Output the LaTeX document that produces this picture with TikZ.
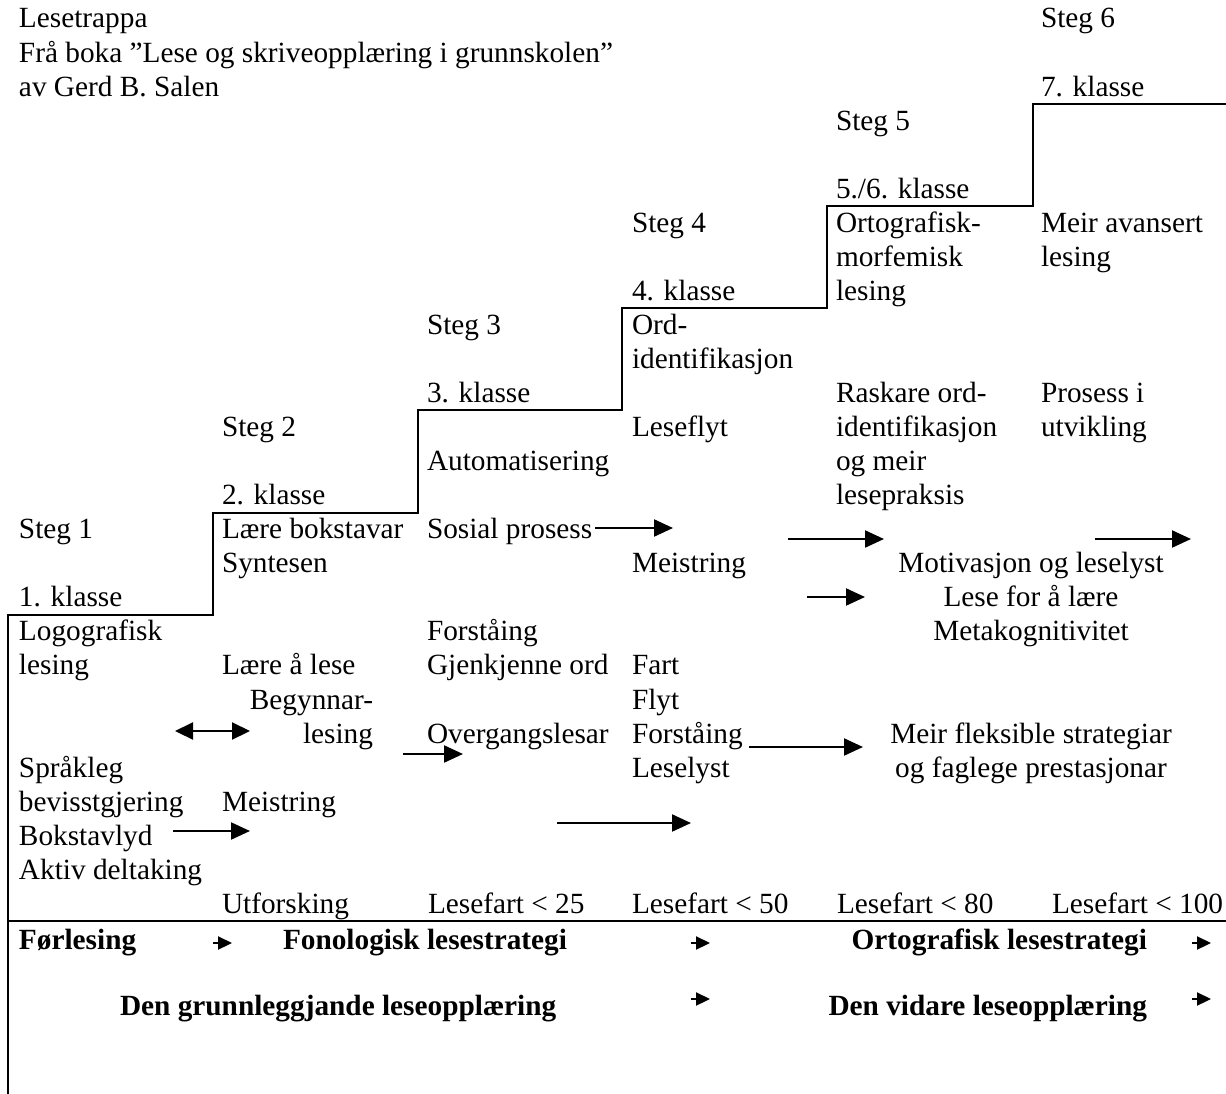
\documentclass[tikz,border=0pt]{standalone}
\usepackage{fontspec}
\setmainfont{Liberation Serif}
\usetikzlibrary{arrows.meta}
\tikzset{
  tx/.style={anchor=base west, inner sep=0pt, outer sep=0pt},
  txr/.style={anchor=base east, inner sep=0pt, outer sep=0pt},
  txc/.style={anchor=base, inner sep=0pt, outer sep=0pt},
  bld/.style={font=\fontsize{29.3}{34.05}\selectfont\bfseries},
  stair/.style={line width=2.5pt, line join=miter},
  arr/.style={line width=2.2pt, -{Triangle[length=19pt,width=17pt]}},
  darr/.style={line width=2.2pt, {Triangle[length=18pt,width=17pt]}-{Triangle[length=18pt,width=17pt]}},
  sarr/.style={line width=2.2pt, -{Triangle[length=14pt,width=13pt]}},
}
\begin{document}
\begin{tikzpicture}[x=1pt,y=-1pt,every node/.style={font=\fontsize{29.3}{34.05}\selectfont}]
\useasboundingbox (0,0) rectangle (1226,1094);
% title
\node[tx] (t1) at (19,{28+34.05*0}) {Lesetrappa};
\node[tx] (t2) at (19,{28+34.05*1}) {Frå boka ”Lese og skriveopplæring i grunnskolen”};
\node[tx] (t3) at (19,{28+34.05*2}) {av Gerd B. Salen};
% staircase
\draw[stair] (8,1094) -- (8,615) -- (213,615) -- (213,513) -- (418,513) -- (418,410) -- (622,410) -- (622,308) -- (827,308) -- (827,206) -- (1033,206) -- (1033,104) -- (1226,104);
\draw[stair] (8,921) -- (1226,921);
% column 1
\node[tx] (s1) at (19,{28+34.05*15}) {Steg 1};
\node[tx] (k1) at (19,{28+34.05*17}) {1. klasse};
\node[tx] (c1a) at (19,{28+34.05*18}) {Logografisk};
\node[tx] (c1b) at (19,{28+34.05*19}) {lesing};
\node[tx] (c1c) at (19,{28+34.05*22}) {Språkleg};
\node[tx] (c1d) at (19,{28+34.05*23}) {bevisstgjering};
\node[tx] (c1e) at (19,{28+34.05*24}) {Bokstavlyd};
\node[tx] (c1f) at (19,{28+34.05*25}) {Aktiv deltaking};
% column 2
\node[tx] (s2) at (222,{28+34.05*12}) {Steg 2};
\node[tx] (k2) at (222,{28+34.05*14}) {2. klasse};
\node[tx] (c2a) at (222,{28+34.05*15}) {Lære bokstavar};
\node[tx] (c2b) at (222,{28+34.05*16}) {Syntesen};
\node[tx] (c2c) at (222,{28+34.05*19}) {Lære å lese};
\node[txr] (c2d) at (373,{28+34.05*20}) {Begynnar-};
\node[txr] (c2e) at (373,{28+34.05*21}) {lesing};
\node[tx] (c2f) at (222,{28+34.05*23}) {Meistring};
% column 3
\node[tx] (s3) at (427,{28+34.05*9}) {Steg 3};
\node[tx] (k3) at (427,{28+34.05*11}) {3. klasse};
\node[tx] (c3a) at (427,{28+34.05*13}) {Automatisering};
\node[tx] (c3b) at (427,{28+34.05*15}) {Sosial prosess};
\node[tx] (c3c) at (427,{28+34.05*18}) {Forståing};
\node[tx] (c3d) at (427,{28+34.05*19}) {Gjenkjenne ord};
\node[tx] (c3e) at (427,{28+34.05*21}) {Overgangslesar};
% column 4
\node[tx] (s4) at (632,{28+34.05*6}) {Steg 4};
\node[tx] (k4) at (632,{28+34.05*8}) {4. klasse};
\node[tx] (c4a) at (632,{28+34.05*9}) {Ord-};
\node[tx] (c4b) at (632,{28+34.05*10}) {identifikasjon};
\node[tx] (c4c) at (632,{28+34.05*12}) {Leseflyt};
\node[tx] (c4d) at (632,{28+34.05*16}) {Meistring};
\node[tx] (c4e) at (632,{28+34.05*19}) {Fart};
\node[tx] (c4f) at (632,{28+34.05*20}) {Flyt};
\node[tx] (c4g) at (632,{28+34.05*21}) {Forståing};
\node[tx] (c4h) at (632,{28+34.05*22}) {Leselyst};
% column 5
\node[tx] (s5) at (836,{28+34.05*3}) {Steg 5};
\node[tx] (k5) at (836,{28+34.05*5}) {5./6. klasse};
\node[tx] (c5a) at (836,{28+34.05*6}) {Ortografisk-};
\node[tx] (c5b) at (836,{28+34.05*7}) {morfemisk};
\node[tx] (c5c) at (836,{28+34.05*8}) {lesing};
\node[tx] (c5d) at (836,{28+34.05*11}) {Raskare ord-};
\node[tx] (c5e) at (836,{28+34.05*12}) {identifikasjon};
\node[tx] (c5f) at (836,{28+34.05*13}) {og meir};
\node[tx] (c5g) at (836,{28+34.05*14}) {lesepraksis};
% column 6
\node[tx] (s6) at (1041,{28+34.05*0}) {Steg 6};
\node[tx] (k6) at (1041,{28+34.05*2}) {7. klasse};
\node[tx] (c6a) at (1041,{28+34.05*6}) {Meir avansert};
\node[tx] (c6b) at (1041,{28+34.05*7}) {lesing};
\node[tx] (c6c) at (1041,{28+34.05*11}) {Prosess i};
\node[tx] (c6d) at (1041,{28+34.05*12}) {utvikling};
% centred texts
\node[txc] (m1) at (1031,{28+34.05*16}) {Motivasjon og leselyst};
\node[txc] (m2) at (1031,{28+34.05*17}) {Lese for å lære};
\node[txc] (m3) at (1031,{28+34.05*18}) {Metakognitivitet};
\node[txc] (f1) at (1031,{28+34.05*21}) {Meir fleksible strategiar};
\node[txc] (f2) at (1031,{28+34.05*22}) {og faglege prestasjonar};
% reading speed row
\node[tx] (l1) at (222,913) {Utforsking};
\node[tx] (l2) at (428,913) {Lesefart < 25};
\node[tx] (l3) at (632,913) {Lesefart < 50};
\node[tx] (l4) at (837,913) {Lesefart < 80};
\node[tx] (l5) at (1052,913) {Lesefart < 100};
% bold rows
\node[tx,bld] (b1) at (19,949) {Førlesing};
\node[tx,bld] (b2) at (283,949) {Fonologisk lesestrategi};
\node[txr,bld] (b3) at (1147,949) {Ortografisk lesestrategi};
\node[tx,bld] (b4) at (120,1015) {Den grunnleggjande leseopplæring};
\node[txr,bld] (b5) at (1147,1015) {Den vidare leseopplæring};
% arrow end points
\coordinate (a1s) at (175,731); \coordinate (a1e) at (250,731);
\coordinate (a2s) at (173,831); \coordinate (a2e) at (250,831);
\coordinate (a3s) at (403,754); \coordinate (a3e) at (463,754);
\coordinate (a4s) at (557,823); \coordinate (a4e) at (691,823);
\coordinate (a5s) at (595,528); \coordinate (a5e) at (673,528);
\coordinate (a6s) at (788,539); \coordinate (a6e) at (884,539);
\coordinate (a7s) at (1095,539); \coordinate (a7e) at (1191,539);
\coordinate (a8s) at (807,597); \coordinate (a8e) at (865,597);
\coordinate (a9s) at (749,747); \coordinate (a9e) at (863,747);
\draw[darr] (a1s) -- (a1e);
\draw[arr] (a2s) -- (a2e);
\draw[arr] (a3s) -- (a3e);
\draw[arr] (a4s) -- (a4e);
\draw[arr] (a5s) -- (a5e);
\draw[arr] (a6s) -- (a6e);
\draw[arr] (a7s) -- (a7e);
\draw[arr] (a8s) -- (a8e);
\draw[arr] (a9s) -- (a9e);
% small arrows in bottom rows
\coordinate (p1s) at (213,943); \coordinate (p1e) at (232,943);
\coordinate (p2s) at (691,943); \coordinate (p2e) at (710,943);
\coordinate (p3s) at (1192,943); \coordinate (p3e) at (1211,943);
\coordinate (p4s) at (691,999); \coordinate (p4e) at (710,999);
\coordinate (p5s) at (1192,999); \coordinate (p5e) at (1211,999);
\draw[sarr] (p1s) -- (p1e);
\draw[sarr] (p2s) -- (p2e);
\draw[sarr] (p3s) -- (p3e);
\draw[sarr] (p4s) -- (p4e);
\draw[sarr] (p5s) -- (p5e);
\end{tikzpicture}
\end{document}
